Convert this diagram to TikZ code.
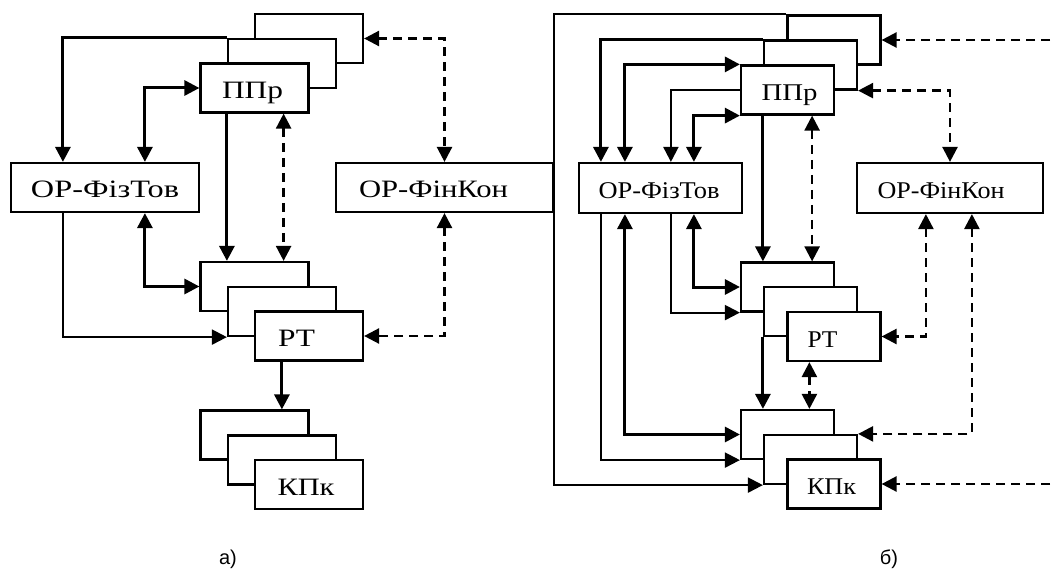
\documentclass[tikz,border=0pt]{standalone}
\usepackage{graphicx}
\usepackage{fontspec}
\setmainfont{Liberation Serif}
\newfontfamily\capfont{Liberation Sans}
\usetikzlibrary{arrows.meta,calc}
% box caption stretched to a given width, natural height kept
\newcommand\bxt[2]{\resizebox{#1pt}{\height}{#2}}

\begin{document}
\begin{tikzpicture}[x=1pt,y=-1pt,
  tip/.tip={Triangle[length=15pt,width=15pt]},
  blk/.style={draw, line width=2.2pt, fill=white, inner sep=0pt, anchor=center,
              text height=21pt, text depth=0pt},
  lsmall/.style={blk, minimum width=108pt, minimum height=49pt, font=\fontsize{25}{27}\selectfont},
  lwide/.style={blk, minimum height=49pt, font=\fontsize{25}{27}\selectfont},
  rsmall/.style={blk, minimum width=93pt, minimum height=49pt, font=\fontsize{24}{26}\selectfont},
  rwide/.style={blk, minimum height=50pt, font=\fontsize{24}{26}\selectfont},
  arr/.style={-tip},
  dbl/.style={tip-tip},
  thk/.style={line width=3pt},
  thn/.style={line width=2.1pt},
  dsh/.style={line width=2.5pt, dash pattern=on 9pt off 6pt},
  ddash/.style={dbl, dsh},
  adash/.style={arr, dsh},
  sublabel/.style={font=\capfont\fontsize{20}{22}\selectfont}
]
\useasboundingbox (0,0) rectangle (1056,569);

% ---------- scheme a) ----------
\node[lsmall] (Lp3) at (309,38.5) {};
\node[lsmall] (Lp2) at (282,63.5) {};
\node[lsmall] (Lp1) at (254.5,88) {\bxt{61}{ППр}\kern4pt};
\node[lwide, minimum width=188pt] (Lfiz) at (105,187.5) {\bxt{148}{ОР-ФізТов}};
\node[lwide, minimum width=217pt] (Lfin) at (444.5,187.5) {\bxt{149}{ОР-ФінКон}\kern22pt};
\node[lsmall] (Lr1) at (254.5,286.5) {};
\node[lsmall] (Lr2) at (282,311.5) {};
\node[lsmall] (Lr3) at (309,336) {\bxt{37}{РТ}\kern25pt};
\node[lsmall] (Lk1) at (254.5,435) {};
\node[lsmall] (Lk2) at (282,460) {};
\node[lsmall] (Lk3) at (309,484.5) {\bxt{57}{КПк}\kern6pt};

\draw[arr,thk] (Lp2.north west) -| ([xshift=53pt]Lfiz.north west);
\draw[dbl,thk] ([xshift=135pt]Lfiz.north west) |- (Lp1.west);
\draw[ddash] (Lp3.east) -| (Lfin.north);
\draw[arr,thk] (Lp1.south -| Lp2.west) -- (Lr1.north -| Lp2.west);
\draw[ddash] ([xshift=-26pt]Lp1.south east) -- ([xshift=-26pt]Lr1.north east);
\draw[dbl,thk] ([xshift=135pt]Lfiz.south west) |- (Lr1.west);
\draw[arr,thn] ([xshift=53pt]Lfiz.south west) |- (Lr2.south west);
\draw[ddash] (Lfin.south) |- (Lr3.east);
\draw[arr,thk] ($(Lr3.south west)+(28,0)$) -- ($(Lr3.south west |- Lk1.north)+(28,0)$);

\node[sublabel] (capa) at (228,559) {а)};

% ---------- scheme b) ----------
\node[rsmall] (Rp3) at (834,40) {};
\node[rsmall] (Rp2) at (810.5,65) {};
\node[rsmall] (Rp1) at (787.5,90) {\kern4pt\bxt{56}{ППр}};
\node[rwide, minimum width=163pt] (Rfiz) at (660.5,188) {\bxt{121}{ОР-ФізТов}\kern3pt};
\node[rwide, minimum width=186pt] (Rfin) at (950,188) {\bxt{127}{ОР-ФінКон}\kern18pt};
\node[rsmall] (Rr1) at (787.5,287) {};
\node[rsmall] (Rr2) at (810.5,311.5) {};
\node[rsmall] (Rr3) at (834,336.5) {\bxt{30}{РТ}\kern23pt};
\node[rsmall] (Rk1) at (787.5,434.5) {};
\node[rsmall] (Rk2) at (810.5,459.5) {};
\node[rsmall] (Rk3) at (834,484) {\bxt{49}{КПк}\kern5pt};

\coordinate (Rin1) at (1050,40);
\coordinate (Rin2) at (1050,484);

\draw[arr,thn] (Rp3.north west) -- ++(-232,0) |- (Rk2.south west);
\draw[arr,thk] (Rp2.north west) -| ([xshift=23pt]Rfiz.north west);
\draw[dbl,thk] ([xshift=47pt]Rfiz.north west) |- (Rp1.north west);
\draw[arr,thn] (Rp1.west) -| ([xshift=93pt]Rfiz.north west);
\draw[dbl,thk] ([xshift=116pt]Rfiz.north west) |- (Rp1.south west);
\draw[adash] (Rin1) -- (Rp3.east);
\draw[ddash] (Rp2.south east) -| (Rfin.north);
\draw[arr,thk] (Rp1.south -| Rp2.west) -- (Rr1.north -| Rp2.west);
\draw[ddash] ([xshift=-23pt]Rp1.south east) -- ([xshift=-23pt]Rr1.north east);
\draw[arr,thn] ([xshift=23pt]Rfiz.south west) |- (Rk1.south west);
\draw[dbl,thk] ([xshift=47pt]Rfiz.south west) |- (Rk1.west);
\draw[arr,thn] ([xshift=93pt]Rfiz.south west) |- (Rr1.south west);
\draw[dbl,thk] ([xshift=116pt]Rfiz.south west) |- (Rr1.west);
\draw[ddash] ([xshift=70pt]Rfin.south west) |- (Rr3.east);
\draw[ddash] ([xshift=116pt]Rfin.south west) |- (Rk2.north east);
\draw[arr,thk] (Rr2.south west) -- (Rr2.south west |- Rk1.north);
\draw[ddash] ($(Rr3.south west)+(23,0)$) -- ($(Rr3.south west |- Rk1.north)+(23,0)$);
\draw[adash] (Rin2) -- (Rk3.east);

\node[sublabel] (capb) at (889,559) {б)};
\end{tikzpicture}
\end{document}
